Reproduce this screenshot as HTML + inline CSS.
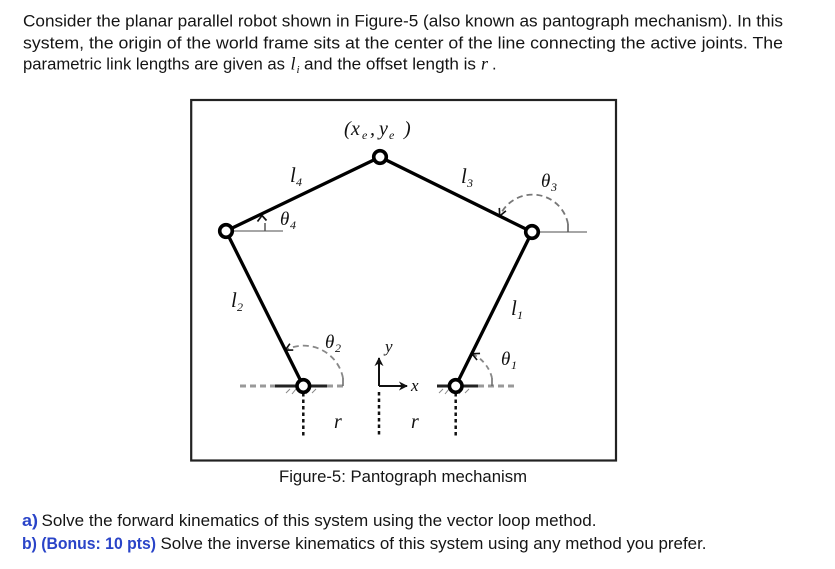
<!DOCTYPE html>
<html>
<head>
<meta charset="utf-8">
<style>
  html,body{margin:0;padding:0;background:#fff;}
  svg{display:block;}
  .t{font-family:"Liberation Sans",sans-serif;font-size:16.5px;fill:#151515;}
  .b{font-family:"Liberation Sans",sans-serif;font-size:16.5px;fill:#2a44c8;font-weight:bold;}
  .m{font-family:"Liberation Serif",serif;font-style:italic;fill:#111;}
</style>
</head>
<body>
<svg width="835" height="569" viewBox="0 0 835 569" xmlns="http://www.w3.org/2000/svg">
  <defs>
    <marker id="arr" viewBox="0 0 10 10" refX="9" refY="5" markerWidth="9" markerHeight="9" markerUnits="userSpaceOnUse" orient="auto">
      <path d="M1,1 L9,5 L1,9" fill="none" stroke="#111" stroke-width="1.8"/>
    </marker>
    <marker id="ax" viewBox="0 0 10 10" refX="9" refY="5" markerWidth="9" markerHeight="9" markerUnits="userSpaceOnUse" orient="auto">
      <path d="M0,0 L10,5 L0,10 L3,5 Z" fill="#111"/>
    </marker>
  </defs>
  <rect width="835" height="569" fill="#fff"/>

  <!-- Top paragraph -->
  <text class="t" x="23" y="26.5" textLength="760" lengthAdjust="spacingAndGlyphs">Consider the planar parallel robot shown in Figure-5 (also known as pantograph mechanism). In this</text>
  <text class="t" x="23" y="48.5" textLength="760" lengthAdjust="spacingAndGlyphs">system, the origin of the world frame sits at the center of the line connecting the active joints. The</text>
  <text class="t" x="23" y="69.5" textLength="262" lengthAdjust="spacingAndGlyphs">parametric link lengths are given as</text>
  <text class="m" x="290.5" y="69.5" font-size="18">l</text>
  <text class="m" x="296.5" y="73" font-size="11">i</text>
  <text class="t" x="304" y="69.5" textLength="172" lengthAdjust="spacingAndGlyphs">and the offset length is</text>
  <text class="m" x="481" y="69.5" font-size="18">r</text>
  <text class="t" x="492" y="69.5">.</text>

  <!-- Figure frame -->
  <rect x="191.2" y="100" width="424.8" height="360.5" fill="none" stroke="#222" stroke-width="2.2"/>

  <!-- reference gray lines at upper joints -->
  <line x1="226" y1="231" x2="283" y2="231" stroke="#888" stroke-width="1.6"/>
  <line x1="532" y1="232" x2="587" y2="232" stroke="#888" stroke-width="1.6"/>

  <!-- theta4 small arc/tick -->
  <line x1="265" y1="231" x2="265" y2="223" stroke="#555" stroke-width="1.5"/>
  <path d="M257.5,221.5 L262,215.5 L266.5,220.5" fill="none" stroke="#111" stroke-width="1.7"/>

  <!-- theta3 dashed arc -->
  <line x1="568" y1="232" x2="568" y2="224" stroke="#555" stroke-width="1.5"/>
  <path d="M568,224 A36,36 0 0 0 499.7,216" fill="none" stroke="#777" stroke-width="1.8" stroke-dasharray="6 4" marker-end="url(#arr)"/>

  <!-- ground dashed lines -->
  <line x1="240" y1="386" x2="275" y2="386" stroke="#999" stroke-width="3" stroke-dasharray="6 4"/>
  <line x1="327" y1="386" x2="345" y2="386" stroke="#999" stroke-width="3" stroke-dasharray="6 4"/>
  <line x1="478" y1="386" x2="516" y2="386" stroke="#999" stroke-width="3" stroke-dasharray="6 4"/>
  <line x1="275" y1="386" x2="327" y2="386" stroke="#222" stroke-width="3"/>
  <line x1="437" y1="386" x2="478" y2="386" stroke="#222" stroke-width="3"/>
  <!-- ground hatch -->
  <g stroke="#888" stroke-width="1">
    <line x1="290" y1="389" x2="286" y2="393"/><line x1="296" y1="389" x2="292" y2="394"/>
    <line x1="310" y1="389" x2="306" y2="394"/><line x1="316" y1="389" x2="312" y2="393"/>
    <line x1="443" y1="389" x2="439" y2="393"/><line x1="449" y1="389" x2="445" y2="394"/>
    <line x1="463" y1="389" x2="459" y2="394"/><line x1="469" y1="389" x2="465" y2="393"/>
  </g>

  <!-- theta2 dashed arc -->
  <line x1="343" y1="386" x2="343" y2="378" stroke="#666" stroke-width="1.5"/>
  <path d="M343,378 A40,40 0 0 0 285.2,350.2" fill="none" stroke="#888" stroke-width="1.8" stroke-dasharray="6 4" marker-end="url(#arr)"/>
  <!-- theta1 dashed arc -->
  <line x1="492" y1="386" x2="492" y2="378" stroke="#666" stroke-width="1.5"/>
  <path d="M492,378 A36,36 0 0 0 472,353.7" fill="none" stroke="#888" stroke-width="1.8" stroke-dasharray="5 4" marker-end="url(#arr)"/>

  <!-- dotted verticals -->
  <g stroke="#111" stroke-width="2.5" stroke-dasharray="3.5 3">
    <line x1="303.3" y1="393" x2="303.3" y2="437"/>
    <line x1="379" y1="392" x2="379" y2="437"/>
    <line x1="455.7" y1="393" x2="455.7" y2="437"/>
  </g>

  <!-- axes -->
  <line x1="379" y1="386" x2="379" y2="358" stroke="#111" stroke-width="2" marker-end="url(#ax)"/>
  <line x1="379" y1="386" x2="407" y2="386" stroke="#111" stroke-width="2" marker-end="url(#ax)"/>

  <!-- links -->
  <g stroke="#000" stroke-width="3.3" stroke-linecap="round">
    <line x1="226" y1="231" x2="380" y2="157"/>
    <line x1="380" y1="157" x2="532" y2="232"/>
    <line x1="226" y1="231" x2="303.3" y2="386"/>
    <line x1="532" y1="232" x2="455.7" y2="386"/>
  </g>

  <!-- joints -->
  <g fill="#fff" stroke="#000" stroke-width="3.6">
    <circle cx="380" cy="157" r="6.3"/>
    <circle cx="226" cy="231" r="6.3"/>
    <circle cx="532" cy="232" r="6.3"/>
    <circle cx="303.3" cy="386" r="6.3"/>
    <circle cx="455.7" cy="386" r="6.3"/>
  </g>

  <!-- labels -->
  <text class="m" font-size="20" x="344" y="135">(</text>
  <text class="m" font-size="20" x="351" y="135">x</text>
  <text class="m" font-size="12" x="362" y="139">e</text>
  <text class="m" font-size="20" x="370" y="135">,</text>
  <text class="m" font-size="20" x="379" y="135">y</text>
  <text class="m" font-size="12" x="389" y="139">e</text>
  <text class="m" font-size="20" x="404" y="135">)</text>

  <text class="m" font-size="21" x="290" y="182">l</text>
  <text class="m" font-size="12" x="296" y="186">4</text>
  <text class="m" font-size="21" x="461" y="183">l</text>
  <text class="m" font-size="12" x="467" y="187">3</text>
  <text class="m" font-size="19" x="280" y="225">θ</text>
  <text class="m" font-size="12" x="290" y="229">4</text>
  <text class="m" font-size="19" x="541" y="187">θ</text>
  <text class="m" font-size="12" x="551" y="191">3</text>
  <text class="m" font-size="21" x="231" y="307">l</text>
  <text class="m" font-size="12" x="237" y="311">2</text>
  <text class="m" font-size="21" x="511" y="315">l</text>
  <text class="m" font-size="12" x="517" y="319">1</text>
  <text class="m" font-size="19" x="325" y="348">θ</text>
  <text class="m" font-size="12" x="335" y="352">2</text>
  <text class="m" font-size="19" x="501" y="365">θ</text>
  <text class="m" font-size="12" x="511" y="369">1</text>
  <text class="m" font-size="17" x="385" y="352">y</text>
  <text class="m" font-size="17" x="411" y="391">x</text>
  <text class="m" font-size="20" x="334" y="428">r</text>
  <text class="m" font-size="20" x="411" y="428">r</text>

  <!-- caption -->
  <text class="t" x="279" y="482" textLength="248" lengthAdjust="spacingAndGlyphs">Figure-5: Pantograph mechanism</text>

  <!-- questions -->
  <text class="b" x="22" y="526" textLength="16" lengthAdjust="spacingAndGlyphs" style="fill:#2a44c8">a)</text>
  <text class="t" x="41.5" y="526" textLength="555" lengthAdjust="spacingAndGlyphs">Solve the forward kinematics of this system using the vector loop method.</text>
  <text class="b" x="22" y="549" textLength="134" lengthAdjust="spacingAndGlyphs" style="fill:#2a44c8">b) (Bonus: 10 pts)</text>
  <text class="t" x="160.5" y="549" textLength="546" lengthAdjust="spacingAndGlyphs">Solve the inverse kinematics of this system using any method you prefer.</text>
</svg>
</body>
</html>
